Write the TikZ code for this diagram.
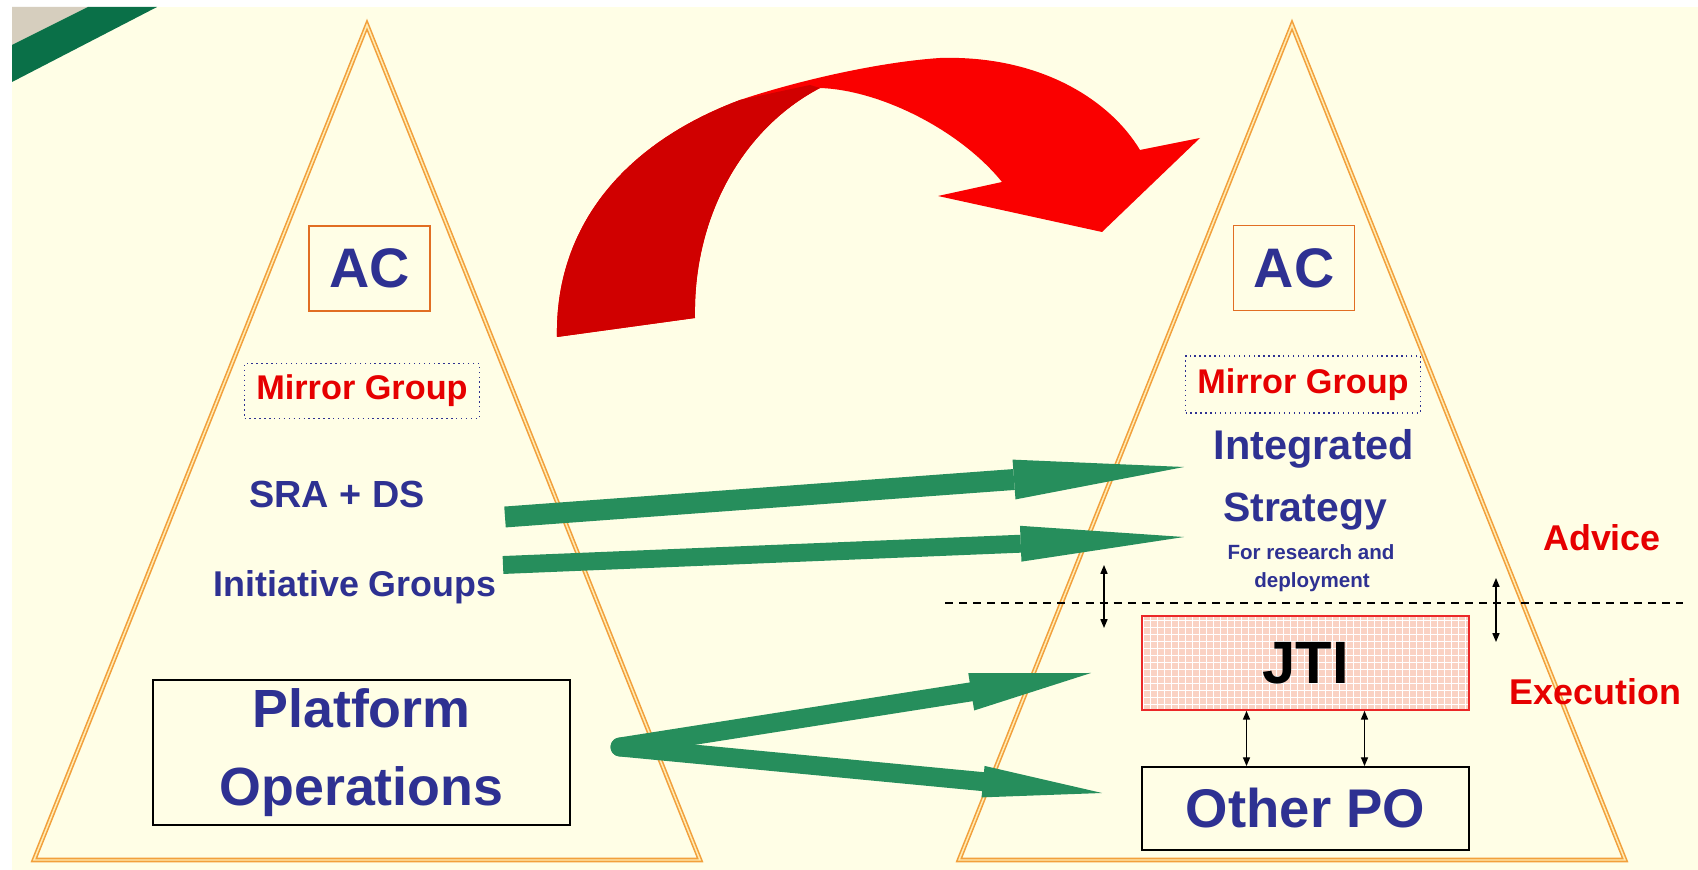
\documentclass[tikz,border=0pt]{standalone}
\usepackage{xcolor}
\usepackage{fontspec}
\setmainfont{Liberation Sans}
\usetikzlibrary{arrows.meta}

\definecolor{cream}{RGB}{255,254,230}
\definecolor{cornergray}{RGB}{214,206,190}
\definecolor{bandgreen}{RGB}{10,112,72}
\definecolor{arrowred}{RGB}{250,0,0}
\definecolor{arrowdark}{RGB}{208,0,0}
\definecolor{triorange}{RGB}{242,160,60}
\definecolor{trilight}{RGB}{255,236,180}
\definecolor{acorange}{RGB}{225,110,35}
\definecolor{navy}{RGB}{46,49,146}
\definecolor{txtred}{RGB}{230,0,0}
\definecolor{arrowgreen}{RGB}{38,142,92}
\definecolor{jtired}{RGB}{235,40,40}
\definecolor{jtipink}{RGB}{250,210,195}

\begin{document}
\begin{tikzpicture}[
	tri/.style={draw=triorange, double=trilight, double distance=0.85pt, line width=0.9pt},
	acbox/.style={draw=acorange, line width=0.8pt, minimum width=2.42cm, minimum height=1.7cm, text=navy, font=\fontsize{31.7}{36}\selectfont\bfseries},
	mgbox/.style={draw=navy, dotted, line width=0.8pt, minimum width=4.7cm, minimum height=1.1cm, text=txtred, font=\fontsize{19.5}{22}\selectfont\bfseries},
	bluetxt/.style={text=navy, font=\fontsize{#1}{#1}\selectfont\bfseries},
	redtxt/.style={text=txtred, font=\fontsize{20.4}{24}\selectfont\bfseries},
	pobox/.style={draw=black, line width=1pt, minimum width=8.34cm, minimum height=2.9cm, align=center, text=navy, font=\fontsize{30.6}{44.8}\selectfont\bfseries},
	jtibox/.style={draw=jtired, line width=0.9pt, fill=jtipink, minimum width=6.54cm, minimum height=1.88cm, font=\fontsize{34}{40}\selectfont\bfseries,
		path picture={\draw[white, line width=0.5pt, step=0.14] (path picture bounding box.south west) grid (path picture bounding box.north east);}},
	opbox/.style={draw=black, line width=1pt, minimum width=6.54cm, minimum height=1.66cm, text=navy, font=\fontsize{31}{36}\selectfont\bfseries},
	garrow/.style={draw=arrowgreen},
	dblarrow/.style={black, line width=0.75pt, {Triangle[length=5pt, width=4pt]}-{Triangle[length=5pt, width=4pt]}},
	dashline/.style={black, line width=0.85pt, dash pattern=on 4.5pt off 3.5pt}
]
	\useasboundingbox (0,0) rectangle (33.96,17.4);
	\fill[white] (0,0) rectangle (33.96,17.4);
	\fill[cream] (0.24,0) rectangle (33.96,17.26);

	% corner band
	\fill[cornergray] (0.24,17.26) -- (1.76,17.26) -- (0.24,16.5) -- cycle;
	\fill[bandgreen] (0.24,16.5) -- (1.76,17.26) -- (3.14,17.26) -- (0.24,15.76) -- cycle;

	% big red arrow
	\fill[arrowred] (11.14,10.66) .. controls (11.1,12.8) and (12.4,14.5) .. (14.8,15.4)
		.. controls (16.0,15.8) and (17.6,16.16) .. (18.8,16.24)
		.. controls (20.8,16.3) and (22.2,15.4) .. (22.8,14.4)
		-- (24.0,14.64) -- (22.04,12.76) -- (18.76,13.48) -- (20.04,13.76)
		.. controls (19.2,14.8) and (17.6,15.6) .. (16.4,15.64)
		.. controls (14.8,14.8) and (13.86,13.0) .. (13.9,11.04) -- cycle;
	\fill[arrowdark] (11.14,10.66) .. controls (11.1,12.8) and (12.4,14.5) .. (14.8,15.4)
		-- (16.2,15.7) -- (16.4,15.64)
		.. controls (14.8,14.8) and (13.86,13.0) .. (13.9,11.04) -- cycle;

	\begin{scope}[xshift=0cm, yshift=0cm]
		\draw[tri] (0.68,0.2) -- (7.34,16.9) -- (14.0,0.2) -- cycle;

		\node[acbox] (AC1) at (7.39,12.03) {AC};
		\node[mgbox] (MG1) at (7.24,9.58) {Mirror Group};
		\node[bluetxt=21.5] (SRA) at (6.74,7.52) {SRA + DS};
		\node[bluetxt=20.4, anchor=base] (IG) at (7.1,5.46) {Initiative Groups};
		\node[pobox] (PO) at (7.23,2.35) {Platform\\Operations};
	\end{scope}

	\begin{scope}[xshift=18.5cm, yshift=0cm]
		\draw[tri] (0.68,0.2) -- (7.34,16.9) -- (14.0,0.2) -- cycle;

		\node[acbox] (AC2) at (7.38,12.04) {AC};
		\node[mgbox, minimum height=1.14cm] (MG2) at (7.56,9.71) {Mirror Group};
		\node[bluetxt=23.6, anchor=base] (IS1) at (7.78,8.2) {Integrated};
		\node[bluetxt=23.3, anchor=base] (IS2) at (7.6,6.96) {Strategy};
		\node[bluetxt=11.7, anchor=base] (IS3) at (7.72,6.2) {For research and};
		\node[bluetxt=11.7, anchor=base] (IS4) at (7.74,5.64) {deployment};

		\coordinate (D1) at (0.4,5.34);
		\coordinate (D2) at (15.16,5.34);
		\draw[dashline] (D1) -- (D2);

		\coordinate (L1) at (3.58,6.1);
		\coordinate (L2) at (3.58,4.84);
		\coordinate (R1) at (11.42,5.84);
		\coordinate (R2) at (11.42,4.56);
		\draw[dblarrow] (L1) -- (L2);
		\draw[dblarrow] (R1) -- (R2);

		\node[jtibox] (JTI) at (7.61,4.14) {JTI};
		\node[opbox] (OPO) at (7.61,1.23) {Other PO};
		\draw[dblarrow] ([xshift=-1.18cm]JTI.south) -- ([xshift=-1.18cm]OPO.north);
		\draw[dblarrow] ([xshift=1.18cm]JTI.south) -- ([xshift=1.18cm]OPO.north);

		\node[redtxt] (ADV) at (13.54,6.64) {Advice};
		\node[redtxt] (EXE) at (13.41,3.56) {Execution};
	\end{scope}

	% green arrows
	\coordinate (S1) at (10.1,7.06);
	\coordinate (T1) at (23.68,8.06);
	\coordinate (S2) at (10.06,6.1);
	\coordinate (T2) at (23.68,6.66);
	\coordinate (S3) at (12.4,2.46);
	\coordinate (T3) at (21.82,3.94);
	\coordinate (T4) at (22.04,1.54);
	\draw[garrow, line width=11.9pt, -{Triangle[length=97pt, width=22.7pt, line width=0pt]}] (S1) -- (T1);
	\draw[garrow, line width=10.2pt, -{Triangle[length=93pt, width=20.4pt, line width=0pt]}] (S2) -- (T2);
	\draw[garrow, line width=10.8pt, line cap=round, -{Triangle[length=69pt, width=21.5pt, line width=0pt]}] (S3) -- (T3);
	\draw[garrow, line width=10.8pt, line cap=round, -{Triangle[length=68pt, width=18pt, line width=0pt]}] (S3) -- (T4);
\end{tikzpicture}
\end{document}
